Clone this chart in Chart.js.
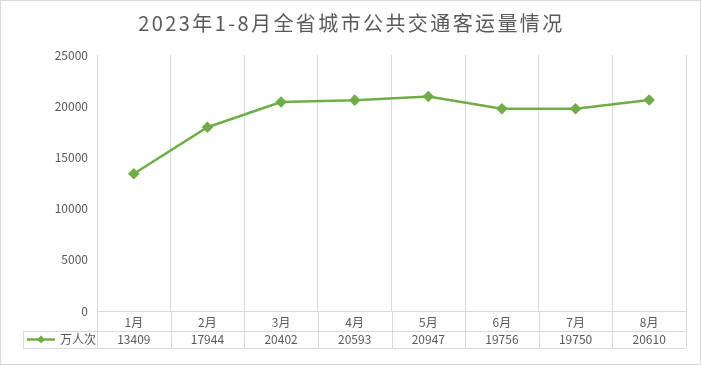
<!DOCTYPE html>
<html>
<head>
<meta charset="utf-8">
<script src="https://cdn.jsdelivr.net/npm/chart.js@4.4.0/dist/chart.umd.min.js"></script>
<style>
  body { margin: 0; background: #fff; }
  #wrap { width: 701px; height: 365px; position: relative; }
</style>
</head>
<body>
<div id="wrap"><canvas id="chart" width="701" height="365"></canvas></div>
<script>
const titleText = '2023年1-8月全省城市公共交通客运量情况';
const months = ['1月', '2月', '3月', '4月', '5月', '6月', '7月', '8月'];
const seriesName = '万人次';
const passengers = [13409, 17944, 20402, 20593, 20947, 19756, 19750, 20610];

const green = '#70AD47';
const gridColor = '#D9D9D9';
const textColor = '#595959';
const fontFamily = '"Noto Sans CJK SC", "Noto Sans", sans-serif';

// title, outer border and the data table under the axis
const tablePlugin = {
  id: 'tablePlugin',
  afterDraw(chart) {
    const ctx = chart.ctx;
    const area = chart.chartArea;
    const xs = chart.scales.x;
    const rowTop = area.bottom + 20;
    const rowBottom = rowTop + 17;
    const tableLeft = 23;
    const step = (area.right - area.left) / months.length;

    ctx.save();
    // outer border
    ctx.strokeStyle = gridColor;
    ctx.lineWidth = 1;
    ctx.strokeRect(0.5, 0.5, chart.width - 1, chart.height - 1);

    // title
    ctx.fillStyle = textColor;
    ctx.font = '20px ' + fontFamily;
    ctx.textAlign = 'center';
    ctx.textBaseline = 'middle';
    ctx.letterSpacing = '2.4px';
    ctx.fillText(titleText, chart.width / 2 + 1, 23);
    ctx.letterSpacing = '0px';

    // table lines
    ctx.beginPath();
    for (let i = 0; i <= months.length; i++) {
      const x = Math.round(area.left + step * i) + 0.5;
      ctx.moveTo(x, area.bottom);
      ctx.lineTo(x, rowBottom);
    }
    ctx.moveTo(tableLeft + 0.5, rowTop);
    ctx.lineTo(tableLeft + 0.5, rowBottom);
    ctx.moveTo(area.left, Math.round(area.bottom) + 0.5);
    ctx.lineTo(area.right, Math.round(area.bottom) + 0.5);
    ctx.moveTo(tableLeft, Math.round(rowTop) + 0.5);
    ctx.lineTo(area.right, Math.round(rowTop) + 0.5);
    ctx.moveTo(tableLeft, Math.round(rowBottom) + 0.5);
    ctx.lineTo(area.right, Math.round(rowBottom) + 0.5);
    ctx.stroke();

    // legend key inside the table
    const midY = (rowTop + rowBottom) / 2;
    ctx.strokeStyle = green;
    ctx.lineWidth = 2.5;
    ctx.beginPath();
    ctx.moveTo(27, midY);
    ctx.lineTo(55, midY);
    ctx.stroke();
    ctx.fillStyle = green;
    ctx.beginPath();
    ctx.moveTo(41, midY - 4);
    ctx.lineTo(45, midY);
    ctx.lineTo(41, midY + 4);
    ctx.lineTo(37, midY);
    ctx.closePath();
    ctx.fill();

    ctx.fillStyle = textColor;
    ctx.font = '12px ' + fontFamily;
    ctx.textAlign = 'left';
    ctx.fillText(seriesName, 60, midY);

    // values
    ctx.textAlign = 'center';
    passengers.forEach((v, i) => {
      ctx.fillText(String(v), xs.getPixelForValue(i), midY);
    });
    ctx.restore();
  }
};

const ctx = document.getElementById('chart').getContext('2d');
new Chart(ctx, {
  type: 'line',
  data: {
    labels: months,
    datasets: [{
      label: seriesName,
      data: passengers,
      borderColor: green,
      backgroundColor: green,
      borderWidth: 2.5,
      pointStyle: 'rectRot',
      pointRadius: 4,
      pointHoverRadius: 4,
      pointBackgroundColor: green,
      pointBorderColor: green,
      tension: 0
    }]
  },
  options: {
    responsive: false,
    animation: false,
    layout: { padding: { top: 55, right: 15, bottom: 34, left: 0 } },
    plugins: {
      legend: { display: false },
      title: { display: false },
      tooltip: { enabled: false }
    },
    scales: {
      x: {
        offset: true,
        grid: { display: true, offset: true, color: gridColor, drawTicks: false },
        border: { display: false },
        ticks: { color: textColor, font: { family: fontFamily, size: 12 }, padding: 4 },
        afterFit(scale) { scale.height = 20; }
      },
      y: {
        min: 0,
        max: 25000,
        grid: { display: false, drawTicks: false },
        border: { display: false },
        ticks: {
          stepSize: 5000,
          color: textColor,
          font: { family: fontFamily, size: 12 },
          padding: 9,
          callback: (v) => String(v)
        },
        afterFit(scale) { scale.width = 97; }
      }
    }
  },
  plugins: [tablePlugin]
});
</script>
</body>
</html>
